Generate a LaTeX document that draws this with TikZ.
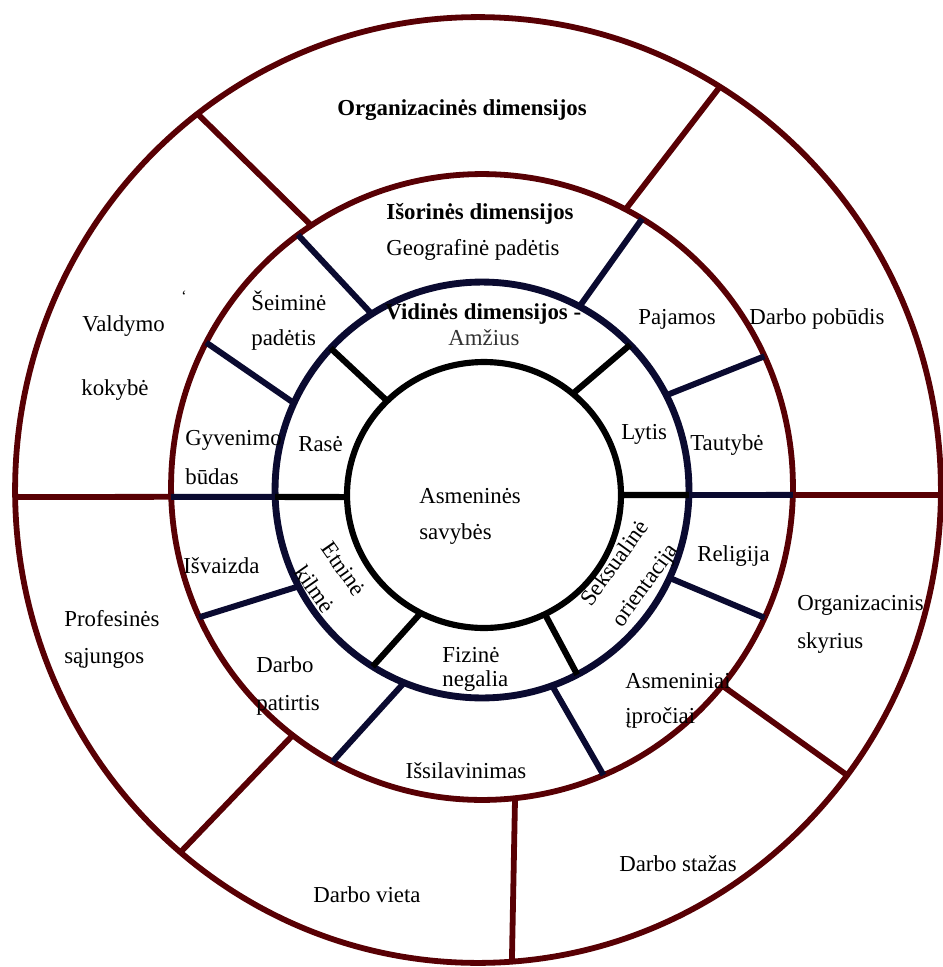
\documentclass[tikz,border=0pt]{standalone}
\usepackage{fontspec}
\setmainfont{Liberation Serif}
\definecolor{ringred}{RGB}{88,0,4}
\definecolor{ringnavy}{RGB}{10,10,48}
% points on the four rings (angle, name)
\newcommand\ptO[2]{\path (478,490) ++(#1:9.26cm and 9.46cm) coordinate (#2);}
\newcommand\ptM[2]{\path (482,487) ++(#1:6.22cm and 6.26cm) coordinate (#2);}
\newcommand\ptN[2]{\path (482,490) ++(#1:4.14cm and 4.16cm) coordinate (#2);}
\newcommand\ptB[2]{\path (484,495) ++(#1:2.74cm and 2.66cm) coordinate (#2);}
\begin{document}
\begin{tikzpicture}[x=0.02cm,y=-0.02cm,
  redline/.style={draw=ringred,line width=3.3pt},
  navyline/.style={draw=ringnavy,line width=3.4pt},
  navyring/.style={draw=ringnavy,line width=3.9pt},
  blackline/.style={draw=black,line width=3.5pt},
  lbl/.style={inner sep=0pt,font=\fontsize{13}{15}\selectfont,text=black},
  lblL/.style={lbl,anchor=west},
  head/.style={inner sep=0pt,font=\fontsize{13}{15}\selectfont\bfseries,text=black}]
\useasboundingbox (0,0) rectangle (943,967);
\fill[white] (0,0) rectangle (943,967);

% ---- rings ----
\draw[redline] (478,490) ellipse [x radius=9.26cm, y radius=9.46cm];
\draw[redline] (482,487) ellipse [x radius=6.22cm, y radius=6.26cm];
\draw[navyring] (482,490) ellipse [x radius=4.14cm, y radius=4.16cm];
\draw[blackline] (484,495) ellipse [x radius=2.74cm, y radius=2.66cm];

% ---- organisational ring separators ----
\ptM{123.3}{m1}\ptO{127.3}{o1}
\ptM{62.5}{m2}\ptO{58.5}{o2}
\ptM{-1.46}{m3}\ptO{-0.6}{o3}
\ptM{-39.4}{m4}\ptO{-37.1}{o4}
\ptM{-83.9}{m5}\ptO{-85.8}{o5}
\ptM{232.5}{m6}\ptO{230}{o6}
\ptM{181.8}{m7}\ptO{180.85}{o7}
\foreach \i in {1,...,7}{\draw[redline] (m\i) -- (o\i);}

% ---- external ring separators ----
\ptN{122.2}{na}\ptM{126.3}{ma}
\ptN{155.3}{nb}\ptM{152.5}{mb}
\ptN{181.9}{nc}\ptM{181.8}{mc}
\ptN{207.6}{nd}\ptM{204.6}{md}
\ptN{247.9}{ne}\ptM{241.3}{me}
\ptN{-70.2}{nf}\ptM{-67}{mf}
\ptN{-25}{ng}\ptM{-24.7}{mg}
\ptN{-1.38}{nh}\ptM{-1.46}{mh}
\ptN{27.1}{ni}\ptM{24.7}{mi}
\ptN{61.9}{nj}\ptM{59}{mj}
\foreach \i in {a,b,c,d,e,f,g,h,i,j}{\draw[navyline] (n\i) -- (m\i);}

% ---- internal ring separators ----
\ptB{135}{b1}\ptN{137}{n1}
\ptB{180.9}{b2}\ptN{181.9}{n2}
\ptB{242.5}{b3}\ptN{238.1}{n3}
\ptB{-63.6}{b4}\ptN{-62.6}{n4}
\ptB{0}{b5}\ptN{-1.38}{n5}
\ptB{49.6}{b6}\ptN{44.3}{n6}
\foreach \i in {1,...,6}{\draw[blackline] (b\i) -- (n\i);}

% ---- headings ----
\node[head] (hOrg) at (462,110) {Organizacinės dimensijos};
\node[head] (hExt) at (480,214) {Išorinės dimensijos};
\node[head,anchor=west] (hInt) at (385,314) {Vidinės dimensijos -};

% ---- core ----
\node[lblL] (asm1) at (419,496) {Asmeninės};
\node[lblL] (asm2) at (419,534) {savybės};

% ---- internal dimensions ----
\node[lbl,text=black!80] (amz) at (484,338) {Amžius};
\node[lblL] (lyt) at (621,434) {Lytis};
\node[lblL] (ras) at (298,444) {Rasė};
\node[lbl,rotate=-55,align=center] (etn) at (329,579) {Etninė\\[5pt]kilmė};
\node[lbl,rotate=54,align=center] (sek) at (631,575) {Seksualinė\\[6pt]orientacija};
\node[lblL] (fiz1) at (442,655) {Fizinė};
\node[lblL] (fiz2) at (442,681) {negalia};

% ---- external dimensions ----
\node[lbl] (geo) at (473,250) {Geografinė padėtis};
\node[lblL] (sei1) at (251,301) {Šeiminė};
\node[lblL] (sei2) at (251,340) {padėtis};
\node[lblL] (gyv1) at (185,440) {Gyvenimo};
\node[lblL] (gyv2) at (185,477) {būdas};
\node[lblL] (isv) at (183,566) {Išvaizda};
\node[lblL] (dp1) at (256,665) {Darbo};
\node[lblL] (dp2) at (256,705) {patirtis};
\node[lbl] (iss) at (466,771) {Išsilavinimas};
\node[lblL] (ip1) at (625,681) {Asmeniniai};
\node[lblL] (ip2) at (625,718) {įpročiai};
\node[lblL] (rel) at (697,556) {Religija};
\node[lblL] (tau) at (690,445) {Tautybė};
\node[lblL] (paj) at (638,319) {Pajamos};

% ---- organisational dimensions ----
\node[lblL] (dpo) at (749,319) {Darbo pobūdis};
\node[lblL] (val1) at (82,326) {Valdymo};
\node[lblL] (val2) at (81,390) {kokybė};
\node[lbl,font=\fontsize{9}{10}\selectfont] (tick) at (184,296) {\char96};
\node[lblL] (pro1) at (64,619) {Profesinės};
\node[lblL] (pro2) at (64,658) {sąjungos};
\node[lblL] (org1) at (797,605) {Organizacinis};
\node[lblL] (org2) at (797,643) {skyrius};
\node[lblL] (dst) at (619,864) {Darbo stažas};
\node[lblL] (dvi) at (313,895) {Darbo vieta};
\end{tikzpicture}
\end{document}
